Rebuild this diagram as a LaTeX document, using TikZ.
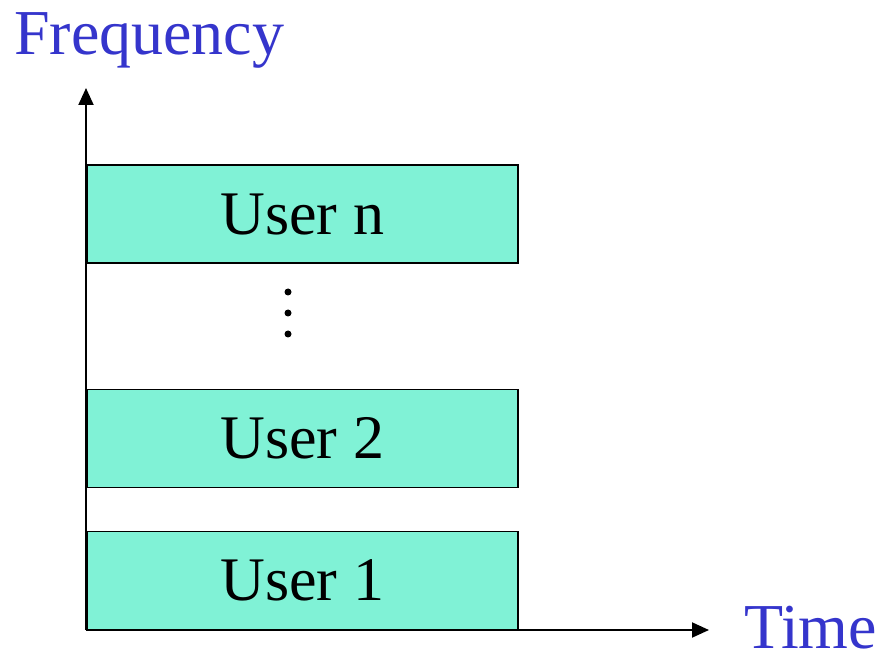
\documentclass[tikz,border=0pt]{standalone}
\usepackage{fontspec}
\setmainfont{Liberation Serif}
\definecolor{boxfill}{HTML}{80F2D6}
\definecolor{labelblue}{HTML}{3535CC}
\tikzset{
  userbox/.style={draw,line width=1.5pt,fill=boxfill,minimum width=431pt,minimum height=98pt,inner sep=0pt,font=\fontsize{62}{62}\selectfont},
  axislabel/.style={text=labelblue,inner sep=0pt,font=\fontsize{64}{64}\selectfont},
  axis/.style={line width=2pt,-{Triangle[length=17pt,width=15pt]}}
}
\usetikzlibrary{arrows.meta}
\begin{document}
\begin{tikzpicture}[x=1pt,y=1pt]
\useasboundingbox (0,0) rectangle (881,657);
\coordinate (origin) at (86,27);
\coordinate (ftip) at (86,569);
\coordinate (ttip) at (709,27);
% user bands
\node[userbox,anchor=south west] (user1) at (86,27) {User 1};
\node[userbox,anchor=south west] (user2) at (86,169) {User 2};
\node[userbox,anchor=south west] (usern) at (86,393) {User n};
% dots
\foreach \y in {323,344,365}
  \fill (288,\y) circle (3.5pt);
% axes
\draw[axis] (origin) -- (ftip);
\draw[axis] (origin) -- (ttip);
\node[axislabel,anchor=base west] (freq) at (14,602) {Frequency};
\node[axislabel,anchor=base west] (time) at (744,9) {Time};
\end{tikzpicture}
\end{document}
